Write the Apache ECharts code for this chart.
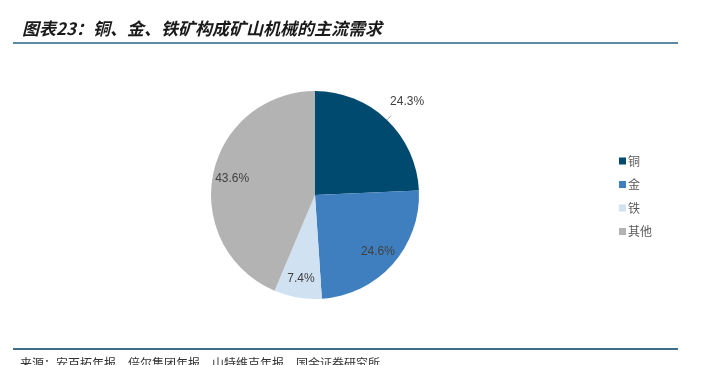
<!DOCTYPE html>
<html>
<head>
<meta charset="utf-8">
<script src="https://cdn.jsdelivr.net/npm/echarts@6/dist/echarts.min.js"></script>
<style>
  html, body { margin: 0; padding: 0; background: #fff; }
  #chart { width: 707px; height: 365px; }
</style>
</head>
<body>
<div id="chart"></div>
<script>
const categories = ['铜', '金', '铁', '其他'];
const shares = [24.3, 24.6, 7.4, 43.6];
const colors = ['#004a70', '#3f7fbf', '#d0e1f2', '#b3b3b3'];

const chart = echarts.init(document.getElementById('chart'));
const font = '"Noto Sans CJK SC", "Noto Sans", sans-serif';
const numFont = '"Liberation Sans", Arial, sans-serif';

const option = {
  animation: false,
  textStyle: { fontFamily: font },
  title: {
    text: '图表23：铜、金、铁矿构成矿山机械的主流需求',
    left: 17,
    top: 15,
    textStyle: { fontSize: 17, fontWeight: 'bold', fontStyle: 'italic', color: '#1a1a1a', fontFamily: font }
  },
  graphic: [
    { type: 'rect', shape: { x: 13, y: 42, width: 665, height: 2 }, style: { fill: '#5b8aa1' } },
    { type: 'rect', shape: { x: 13, y: 348, width: 665, height: 2 }, style: { fill: '#3f6e88' } },
    {
      type: 'text', left: 20, top: 357,
      style: { text: '来源：安百拓年报，倍尔集团年报，山特维克年报，国金证券研究所', fontSize: 12, fill: '#333', fontFamily: font }
    }
  ],
  legend: {
    orient: 'vertical',
    left: 614,
    top: 150,
    itemWidth: 7,
    itemHeight: 7,
    itemGap: 11.5,
    icon: 'rect',
    textStyle: { fontSize: 12, color: '#595959', padding: [0, 0, 0, -3] },
    data: categories
  },
  series: [
    {
      type: 'pie',
      center: [315, 195],
      radius: [0, 104],
      startAngle: 90,
      clockwise: true,
      silent: true,
      label: { show: false },
      labelLine: { show: false },
      labelLayout: { dx: -6, dy: -14 },
      data: categories.map((name, i) => ({
        name,
        value: shares[i],
        itemStyle: { color: colors[i] },
        label: i === 0 ? {
          show: true, position: 'outside', formatter: '{c}%',
          fontSize: 12, color: '#404040', fontFamily: numFont
        } : undefined,
        labelLine: i === 0 ? {
          show: true, length: 6, length2: 0, lineStyle: { color: '#a6a6a6', width: 1 }
        } : undefined
      }))
    },
    {
      type: 'pie',
      center: [315, 195],
      radius: [57, 106],
      startAngle: 90,
      clockwise: true,
      silent: true,
      label: { show: true, position: 'inside', formatter: '{c}%', fontSize: 12, color: '#404040', fontFamily: numFont },
      labelLine: { show: false },
      data: categories.map((name, i) => ({
        name,
        value: shares[i],
        itemStyle: { color: 'rgba(0,0,0,0)' },
        label: { show: i !== 0 }
      }))
    }
  ]
};

chart.setOption(option);
</script>
</body>
</html>
